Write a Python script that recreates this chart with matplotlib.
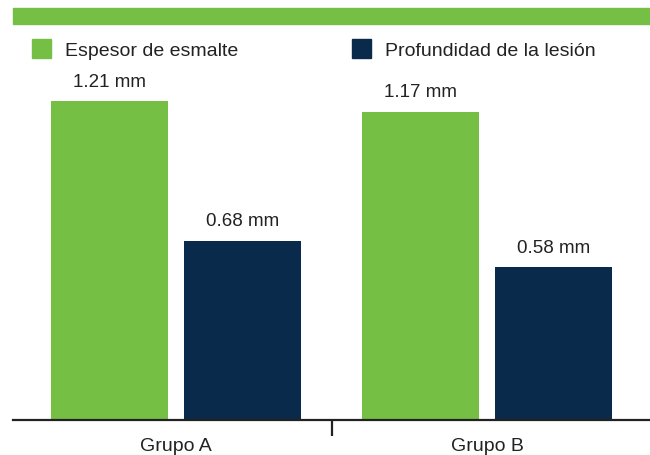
import matplotlib
matplotlib.use("Agg")
import matplotlib.pyplot as plt
from matplotlib.patches import Rectangle
from matplotlib.ticker import FixedLocator
import numpy as np

plt.rcParams['font.family'] = ['Liberation Sans', 'DejaVu Sans']

groups = ["Grupo A", "Grupo B"]
series_names = ["Espesor de esmalte", "Profundidad de la lesión"]
espesor = [1.21, 1.17]
profundidad = [0.68, 0.58]
value_labels_esp = ["1.21 mm", "1.17 mm"]
value_labels_prof = ["0.68 mm", "0.58 mm"]

GREEN = "#74bf44"
NAVY = "#0a2a4b"
TEXT = "#222222"

W, H, DPI = 650, 455, 100
fig = plt.figure(figsize=(W / DPI, H / DPI), dpi=DPI)

# header band
fig.patches.append(Rectangle((13 / W, 1 - 24 / H), (W - 13) / W, 16 / H,
                             transform=fig.transFigure, color=GREEN, zorder=0))

# axes: baseline at y=420px, 263.6 px per unit
ymax = 1.3
px_per_unit = 319 / 1.21
ax_h = ymax * px_per_unit
ax = fig.add_axes([13 / W, (H - 420) / H, (W - 13) / W, ax_h / H])
ax.set_xlim(-0.524, 1.524)
ax.set_ylim(0, ymax)

x = np.arange(len(groups))
bw = 0.376
off = 0.213
b1 = ax.bar(x - off, espesor, bw, color=GREEN, zorder=2)
b2 = ax.bar(x + off, profundidad, bw, color=NAVY, zorder=2)

for bars, labels in ((b1, value_labels_esp), (b2, value_labels_prof)):
    for rect, lab in zip(bars, labels):
        ax.annotate(lab, (rect.get_x() + rect.get_width() / 2, rect.get_height()),
                    xytext=(0, 19), textcoords="offset pixels",
                    ha="center", va="center", fontsize=13.5, color=TEXT,
                    annotation_clip=False)

for s in ("top", "right", "left"):
    ax.spines[s].set_visible(False)
ax.spines["bottom"].set_linewidth(1.6)
ax.spines["bottom"].set_color(TEXT)
ax.set_yticks([])

ax.set_xticks(x)
ax.set_xticklabels(groups, fontsize=14, color=TEXT)
ax.tick_params(axis="x", which="major", length=0, pad=13)
ax.xaxis.set_minor_locator(FixedLocator([0.5]))
ax.tick_params(axis="x", which="minor", length=11.5, width=1.6, color=TEXT,
               direction="out")

# legend
legend_items = [(32, 65, GREEN, series_names[0]), (352, 385, NAVY, series_names[1])]
for sx, tx, col, name in legend_items:
    fig.patches.append(Rectangle((sx / W, 1 - 58 / H), 19 / W, 19 / H,
                                 transform=fig.transFigure, color=col))
    fig.text(tx / W, 1 - 51 / H, name, fontsize=14, color=TEXT,
             ha="left", va="center")

fig.savefig("out.png", dpi=DPI, facecolor="white")
